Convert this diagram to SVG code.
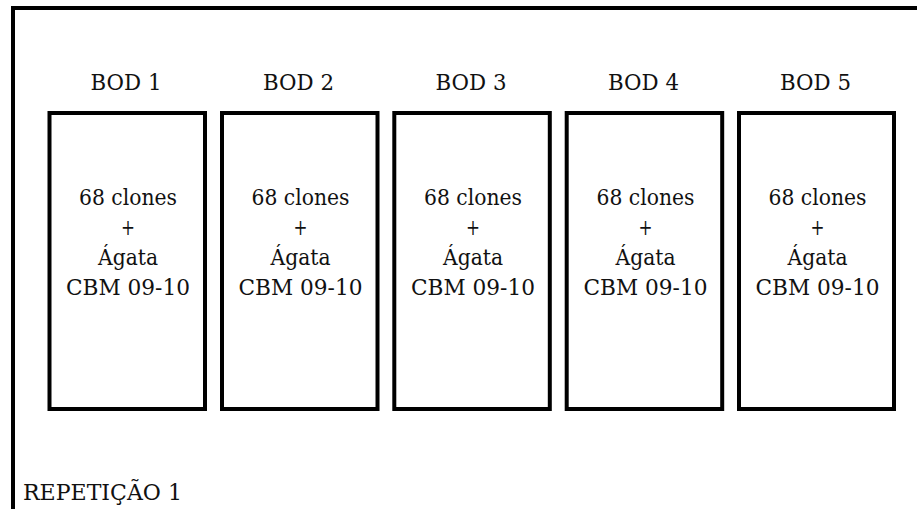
<svg xmlns="http://www.w3.org/2000/svg" width="917" height="509" viewBox="0 0 917 509">
<style>
.frame{fill:none;stroke:#000;stroke-width:4}
.box{fill:#fff;stroke:#000;stroke-width:4}
.t{font-family:'DejaVu Serif','Liberation Serif',serif;font-size:23px;fill:#111;text-anchor:middle}
</style>
<rect width="917" height="509" fill="#fff"/>
<rect id="frame" class="frame" x="13" y="8" width="920" height="520"/>
<g id="bod1">
<text class="t" x="126" y="89.5" textLength="71" lengthAdjust="spacingAndGlyphs">BOD 1</text>
<rect class="box" x="49.5" y="113" width="155.5" height="296"/>
<text class="t" x="128" y="205" textLength="98" lengthAdjust="spacingAndGlyphs">68 clones</text><text class="t" x="128" y="235" textLength="14" lengthAdjust="spacingAndGlyphs">+</text><text class="t" x="128" y="265" textLength="60" lengthAdjust="spacingAndGlyphs">Ágata</text><text class="t" x="128" y="295" textLength="124" lengthAdjust="spacingAndGlyphs">CBM 09-10</text>
</g>
<g id="bod2">
<text class="t" x="298.5" y="89.5" textLength="71" lengthAdjust="spacingAndGlyphs">BOD 2</text>
<rect class="box" x="222" y="113" width="155.5" height="296"/>
<text class="t" x="300.5" y="205" textLength="98" lengthAdjust="spacingAndGlyphs">68 clones</text><text class="t" x="300.5" y="235" textLength="14" lengthAdjust="spacingAndGlyphs">+</text><text class="t" x="300.5" y="265" textLength="60" lengthAdjust="spacingAndGlyphs">Ágata</text><text class="t" x="300.5" y="295" textLength="124" lengthAdjust="spacingAndGlyphs">CBM 09-10</text>
</g>
<g id="bod3">
<text class="t" x="471" y="89.5" textLength="71" lengthAdjust="spacingAndGlyphs">BOD 3</text>
<rect class="box" x="394.3" y="113" width="155.5" height="296"/>
<text class="t" x="473" y="205" textLength="98" lengthAdjust="spacingAndGlyphs">68 clones</text><text class="t" x="473" y="235" textLength="14" lengthAdjust="spacingAndGlyphs">+</text><text class="t" x="473" y="265" textLength="60" lengthAdjust="spacingAndGlyphs">Ágata</text><text class="t" x="473" y="295" textLength="124" lengthAdjust="spacingAndGlyphs">CBM 09-10</text>
</g>
<g id="bod4">
<text class="t" x="643.5" y="89.5" textLength="71" lengthAdjust="spacingAndGlyphs">BOD 4</text>
<rect class="box" x="566.7" y="113" width="155.5" height="296"/>
<text class="t" x="645.5" y="205" textLength="98" lengthAdjust="spacingAndGlyphs">68 clones</text><text class="t" x="645.5" y="235" textLength="14" lengthAdjust="spacingAndGlyphs">+</text><text class="t" x="645.5" y="265" textLength="60" lengthAdjust="spacingAndGlyphs">Ágata</text><text class="t" x="645.5" y="295" textLength="124" lengthAdjust="spacingAndGlyphs">CBM 09-10</text>
</g>
<g id="bod5">
<text class="t" x="815.5" y="89.5" textLength="71" lengthAdjust="spacingAndGlyphs">BOD 5</text>
<rect class="box" x="739" y="113" width="155" height="296"/>
<text class="t" x="817.5" y="205" textLength="98" lengthAdjust="spacingAndGlyphs">68 clones</text><text class="t" x="817.5" y="235" textLength="14" lengthAdjust="spacingAndGlyphs">+</text><text class="t" x="817.5" y="265" textLength="60" lengthAdjust="spacingAndGlyphs">Ágata</text><text class="t" x="817.5" y="295" textLength="124" lengthAdjust="spacingAndGlyphs">CBM 09-10</text>
</g>
<g id="connectors"></g>
<text class="t" x="23" y="500" style="text-anchor:start" textLength="159" lengthAdjust="spacingAndGlyphs">REPETIÇÃO 1</text>
</svg>
